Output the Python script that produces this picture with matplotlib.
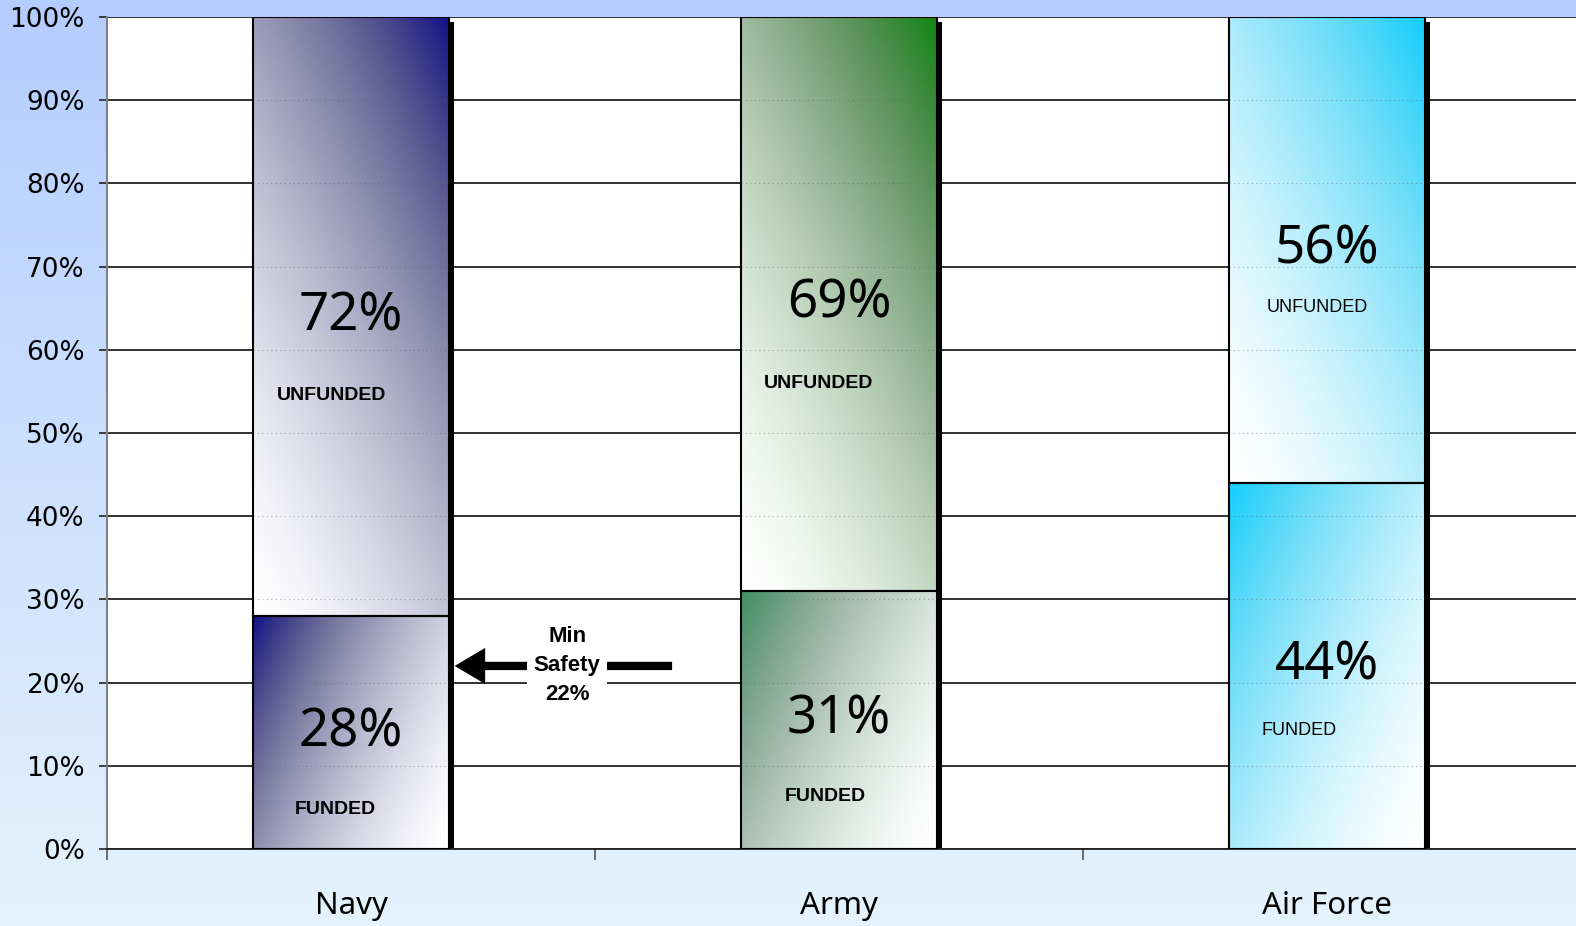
import numpy as np
import matplotlib
matplotlib.use('Agg')
import matplotlib.pyplot as plt
from matplotlib.patches import Rectangle
from matplotlib.colors import to_rgb

# data
branches = ['Navy', 'Army', 'Air Force']
funded = [28, 31, 44]
unfunded = [72, 69, 56]
funded_colors = ['#000080', '#2e8b57', '#00ccff']
unfunded_colors = ['#000080', '#008000', '#00ccff']
yticks = [0, 10, 20, 30, 40, 50, 60, 70, 80, 90, 100]
min_safety = 22

PX = 1.0 / 488      # one pixel in x data units
PY = 8.32           # pixels per percent on y
GREYING = [0.45, 0.45, 0.1]   # how washed-out the mid tones look per bar


def gradient_img(color, dark_corner, height_px, grey, width_px=195, angle=25, n=150, m=60):
    # white -> colour gradient, tilted, darkest at the given top corner
    u = np.linspace(0, 1, m)[None, :]
    v = np.linspace(0, 1, n)[:, None]
    if dark_corner == 'tl':
        u = 1 - u
    a = np.deg2rad(angle)
    cx = width_px * np.cos(a)
    cy = height_px * np.sin(a)
    t = (u * cx + v * cy) / (cx + cy)
    t = np.clip(t, 0, 1) ** 1.5
    c = np.array(to_rgb(color))
    img = 1 - t[..., None] * (1 - c)[None, None, :]
    lum = img.mean(axis=2, keepdims=True)
    k = 1 - grey * 4 * (t * (1 - t))[..., None]
    return np.clip(lum + (img - lum) * k, 0, 1)


def main():
    plt.rcParams['hatch.linewidth'] = 0.6
    fig = plt.figure(figsize=(15.76, 9.26), dpi=100)

    # figure background gradient
    bg = fig.add_axes([0, 0, 1, 1], zorder=-5)
    top = np.array([180, 205, 255]) / 255
    bot = np.array([228, 243, 253]) / 255
    s = np.linspace(0, 1, 256)[:, None, None]
    grad = top * (1 - s) + bot * s
    bg.imshow(np.repeat(grad, 2, axis=1), aspect='auto', extent=(0, 1, 0, 1))
    bg.axis('off')

    ax = fig.add_axes([107 / 1576, 77 / 926, 1 - 107 / 1576, 832 / 926])
    ax.set_facecolor('white')

    x = np.arange(len(branches))
    w = 0.4

    for i in range(len(branches)):
        x0, x1 = x[i] - w / 2, x[i] + w / 2
        f, u = funded[i], unfunded[i]
        # shadow on the right side
        ax.add_patch(Rectangle((x1, 0), 5 * PX, 99.4, fc='black', ec='none', zorder=1.8))
        ax.imshow(gradient_img(funded_colors[i], 'tl', f * PY, GREYING[i]),
                  extent=(x0, x1, 0, f), origin='lower', aspect='auto', zorder=2,
                  interpolation='bilinear')
        ax.imshow(gradient_img(unfunded_colors[i], 'tr', u * PY, GREYING[i]),
                  extent=(x0, x1, f, f + u), origin='lower', aspect='auto', zorder=2,
                  interpolation='bilinear')
        # faint stripe texture
        ax.add_patch(Rectangle((x0, 0), w, f, fill=False, hatch='/' * 14,
                               ec=(1, 1, 1, 0.15), lw=0, zorder=2.2))
        ax.add_patch(Rectangle((x0, f), w, u, fill=False, hatch='\\' * 14,
                               ec=(1, 1, 1, 0.15), lw=0, zorder=2.2))
        ax.add_patch(Rectangle((x0, 0), w, f, fill=False, ec='black', lw=1.5, zorder=3))
        ax.add_patch(Rectangle((x0, f), w, u, fill=False, ec='black', lw=1.5, zorder=3))
        # faint dotted gridlines seen through the bars
        for yv in yticks[1:-1]:
            ax.plot([x0, x1], [yv, yv], color='#606060', lw=0.8, ls=(0, (1, 3)),
                    alpha=0.5, zorder=2.5)

        # labels
        mid_u = f + u / 2
        mid_f = f / 2
        ax.text(x[i], mid_u, f'{u}%', ha='center', va='center', fontsize=38,
                family='Noto Sans', zorder=4)
        ax.text(x[i], mid_f, f'{f}%', ha='center', va='center', fontsize=38,
                family='Noto Sans', zorder=4)
        if branches[i] == 'Air Force':
            ax.text(x[i] - 10 * PX, mid_u - 6.9, 'UNFUNDED', ha='center', va='center',
                    fontsize=13, family='Liberation Sans', zorder=4)
            ax.text(x[i] - 28 * PX, mid_f - 7.8, 'FUNDED', ha='center', va='center',
                    fontsize=13, family='Liberation Sans', zorder=4)
        else:
            dxu = [-19, -20][i]
            dxf = [-16, -14][i]
            ax.text(x[i] + dxu * PX, mid_u - 9.5, 'UNFUNDED', ha='center', va='center',
                    fontsize=14, fontweight='bold', family='Liberation Sans', zorder=4)
            ax.text(x[i] + dxf * PX, mid_f - 9.2, 'FUNDED', ha='center', va='center',
                    fontsize=14, fontweight='bold', family='Liberation Sans', zorder=4)

    # min safety arrow
    ax.annotate('', xy=(0.2 + 6 * PX, min_safety), xytext=(0.658, min_safety),
                arrowprops=dict(arrowstyle='simple,head_length=2.2,head_width=2.6,tail_width=0.6',
                                mutation_scale=10, fc='black', ec='black', lw=0,
                                shrinkA=0, shrinkB=0),
                zorder=4)
    ax.text(0.443, min_safety, f'Min\nSafety\n{min_safety}%', ha='center', va='center',
            fontsize=16, fontweight='bold', family='Liberation Sans', linespacing=1.5,
            zorder=5, bbox=dict(boxstyle='square,pad=0.3', fc='white', ec='none'))

    # axes styling
    ax.set_xlim(-0.5, 2.5 + 5 * PX)
    ax.set_ylim(0, 100)
    ax.set_yticks(yticks)
    ax.set_yticklabels([f'{t}%' for t in yticks], fontsize=19, family='DejaVu Sans')
    ax.yaxis.grid(True, color='#222222', lw=1.3, zorder=0)
    ax.set_axisbelow(True)
    ax.set_xticks(x)
    ax.set_xticklabels(branches, fontsize=22.5, family='Noto Sans')
    ax.set_xticks([-0.5, 0.5, 1.5], minor=True)
    ax.tick_params(axis='x', which='major', length=0, pad=30)
    ax.tick_params(axis='x', which='minor', length=8, color='#555555', width=1.2)
    ax.tick_params(axis='y', length=6, width=1.2, color='#222222', pad=10)
    ax.spines['top'].set_visible(False)
    ax.spines['right'].set_visible(False)
    ax.spines['left'].set_color('#808080')
    ax.spines['left'].set_linewidth(1.5)
    ax.spines['bottom'].set_color('#222222')
    ax.spines['bottom'].set_linewidth(1.3)

    fig.savefig('out.png', dpi=100)


if __name__ == '__main__':
    main()
